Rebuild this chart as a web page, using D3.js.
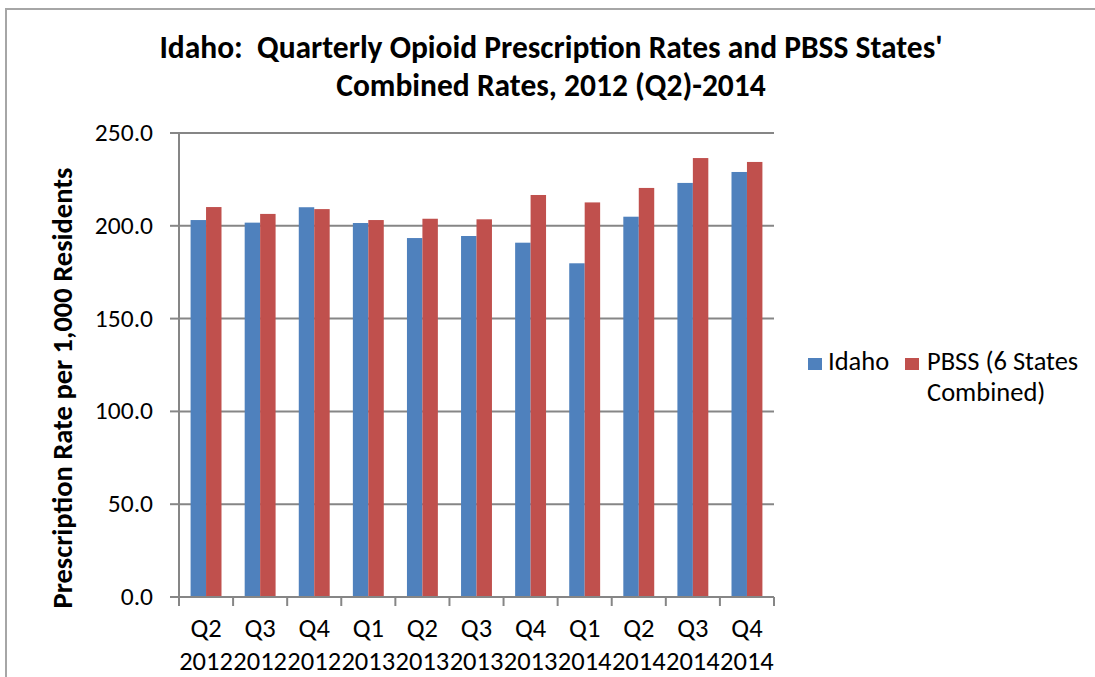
<!DOCTYPE html>
<html lang="en">
<head>
<meta charset="utf-8">
<title>Idaho Opioid Prescription Rates</title>
<script src="https://d3js.org/d3.v7.min.js"></script>
<style>
    body { margin: 0; background: #fff; }
    text { font-family: Carlito, "Open Sans", "Noto Sans", sans-serif; fill: #000; }
    .title { font-weight: bold; font-size: 31.5px; white-space: pre; }
    .ylabel { font-weight: bold; font-size: 28.5px; }
    .tick { font-size: 25.5px; }
    .xtick { font-size: 26.5px; }
    .legend { font-size: 26.5px; }
</style>
</head>
<body>
<div id="chart"></div>
<script>
// data
var quarters = ["Q2", "Q3", "Q4", "Q1", "Q2", "Q3", "Q4", "Q1", "Q2", "Q3", "Q4"]
var years    = ["2012", "2012", "2012", "2013", "2013", "2013", "2013", "2014", "2014", "2014", "2014"]
var idaho    = [203.1, 201.7, 210.0, 201.5, 193.4, 194.5, 190.9, 179.8, 204.9, 223.1, 229.0]
var pbss     = [210.1, 206.4, 209.0, 203.1, 203.8, 203.5, 216.6, 212.6, 220.4, 236.5, 234.4]
var yTicks   = [0, 50, 100, 150, 200, 250]
var seriesNames  = ["Idaho", "PBSS (6 States Combined)"]
var seriesColors = ["#4F81BD", "#C0504D"]

var width = 1095, height = 677
var margin = {left: 179, right: 321, top: 133, bottom: 80}

var svg = d3.select("#chart").append("svg")
    .attr("width", width)
    .attr("height", height)

// outer chart border
svg.append("rect")
    .attr("x", 6).attr("y", 9)
    .attr("width", width + 10).attr("height", height + 10)
    .attr("fill", "none").attr("stroke", "#a6a6a6").attr("stroke-width", 2)

var idx = d3.range(quarters.length)

var x = d3.scaleBand()
    .domain(idx)
    .range([margin.left, width - margin.right])
    .paddingInner(0).paddingOuter(0)

var y = d3.scaleLinear()
    .domain([0, 250])
    .range([height - margin.bottom, margin.top])

// bars are 1/3.5 of the band each (gap width 150%)
var barW = x.bandwidth() / 3.5
var x1 = d3.scaleBand()
    .domain([0, 1])
    .range([x.bandwidth() * 0.75 / 3.5, x.bandwidth() * 0.75 / 3.5 + 2 * barW])

// gridlines
svg.append("g").selectAll("line")
    .data(yTicks.filter(d => d > 0))
    .enter().append("line")
    .attr("x1", margin.left).attr("x2", width - margin.right)
    .attr("y1", d => y(d)).attr("y2", d => y(d))
    .attr("stroke", "#868686").attr("stroke-width", 2)

// y tick labels
svg.append("g").selectAll("text")
    .data(yTicks)
    .enter().append("text")
    .attr("class", "tick")
    .attr("x", 153)
    .attr("y", d => y(d) + 8)
    .attr("text-anchor", "end")
    .text(d => d3.format(".1f")(d))

// bars
var series = [idaho, pbss]
var groups = svg.append("g").selectAll("g")
    .data(series)
    .enter().append("g")
    .attr("fill", (d, i) => seriesColors[i])

groups.selectAll("rect")
    .data((d, si) => d.map((v, i) => ({v: v, i: i, s: si})))
    .enter().append("rect")
    .attr("x", d => x(d.i) + x1(d.s))
    .attr("width", barW)
    .attr("y", d => y(d.v))
    .attr("height", d => y(0) - y(d.v))

// axes lines
svg.append("line")
    .attr("x1", margin.left).attr("x2", margin.left)
    .attr("y1", y(250)).attr("y2", y(0))
    .attr("stroke", "#868686").attr("stroke-width", 2)
svg.append("line")
    .attr("x1", margin.left - 9).attr("x2", width - margin.right)
    .attr("y1", y(0)).attr("y2", y(0))
    .attr("stroke", "#868686").attr("stroke-width", 2)

// x tick marks at category boundaries
svg.append("g").selectAll("line")
    .data(idx.concat([quarters.length]))
    .enter().append("line")
    .attr("x1", d => margin.left + d * x.bandwidth())
    .attr("x2", d => margin.left + d * x.bandwidth())
    .attr("y1", y(0)).attr("y2", y(0) + 9)
    .attr("stroke", "#868686").attr("stroke-width", 2)

// y tick marks
svg.append("g").selectAll("line")
    .data(yTicks)
    .enter().append("line")
    .attr("x1", margin.left - 9).attr("x2", margin.left)
    .attr("y1", d => y(d)).attr("y2", d => y(d))
    .attr("stroke", "#868686").attr("stroke-width", 2)

// x labels
var xl = svg.append("g").selectAll("text")
    .data(idx)
    .enter().append("text")
    .attr("class", "xtick")
    .attr("text-anchor", "middle")
    .attr("x", d => x(d) + x.bandwidth() / 2)
xl.append("tspan")
    .attr("x", d => x(d) + x.bandwidth() / 2)
    .attr("y", 637)
    .text(d => quarters[d])
xl.append("tspan")
    .attr("x", d => x(d) + x.bandwidth() / 2)
    .attr("y", 670)
    .text(d => years[d])

// title
svg.append("text").attr("class", "title")
    .attr("x", 551).attr("y", 58).attr("text-anchor", "middle")
    .text("Idaho:  Quarterly Opioid Prescription Rates and PBSS States'")
svg.append("text").attr("class", "title")
    .attr("x", 551).attr("y", 96).attr("text-anchor", "middle")
    .text("Combined Rates, 2012 (Q2)-2014")

// y axis title
svg.append("text").attr("class", "ylabel")
    .attr("transform", "translate(72,388) rotate(-90)")
    .attr("text-anchor", "middle")
    .text("Prescription Rate per 1,000 Residents")

// legend
var legend = svg.append("g")
legend.append("rect").attr("x", 808).attr("y", 358).attr("width", 14).attr("height", 12)
    .attr("fill", seriesColors[0])
legend.append("text").attr("class", "legend").attr("x", 828).attr("y", 370).text(seriesNames[0])
legend.append("rect").attr("x", 905).attr("y", 358).attr("width", 14).attr("height", 12)
    .attr("fill", seriesColors[1])
var lt = legend.append("text").attr("class", "legend").attr("x", 927).attr("y", 370)
lt.append("tspan").attr("x", 927).attr("y", 370).text("PBSS (6 States")
lt.append("tspan").attr("x", 927).attr("y", 401).text("Combined)")
</script>
</body>
</html>
